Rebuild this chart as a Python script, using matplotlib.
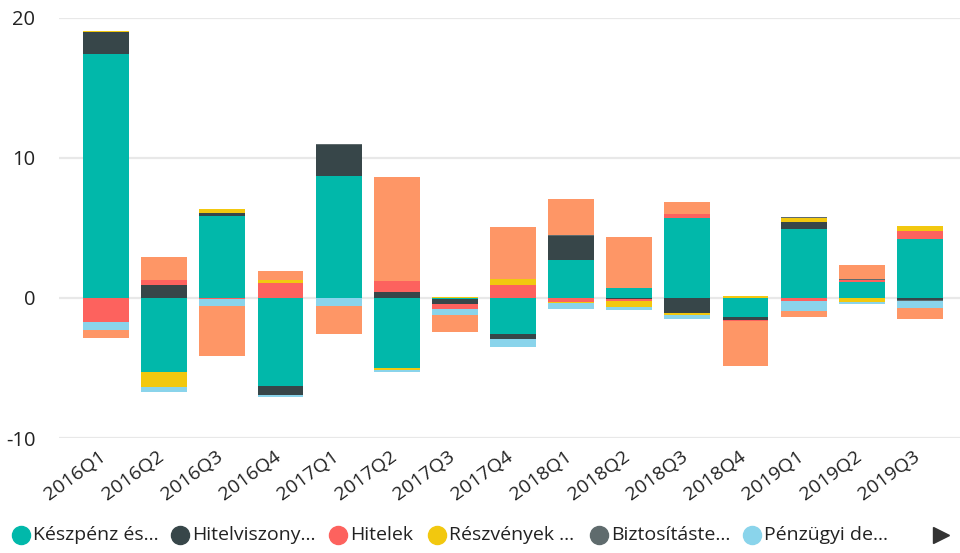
import matplotlib
matplotlib.use("Agg")
import matplotlib.pyplot as plt
import matplotlib.transforms as mtransforms
import numpy as np
from matplotlib.lines import Line2D

quarters = ["2016Q1", "2016Q2", "2016Q3", "2016Q4", "2017Q1", "2017Q2", "2017Q3", "2017Q4",
            "2018Q1", "2018Q2", "2018Q3", "2018Q4", "2019Q1", "2019Q2", "2019Q3"]

series_names = ["Készpénz és...", "Hitelviszony...", "Hitelek", "Részvények ...",
                "Biztosításte...", "Pénzügyi de...", "Egyéb"]

keszpenz = [17.40, -5.31, 5.83, -6.31, 8.69, -5.02, -0.05, -2.60, 2.69, 0.69, 5.69, -1.37, 4.90, 1.14, 4.19]
hitelviszony = [1.57, 0.90, 0.21, -0.64, 2.21, 0.40, -0.40, -0.36, 1.74, -0.07, -1.07, -0.22, 0.50, 0.00, -0.17]
hitelek = [-1.74, 0.36, -0.10, 1.05, 0.00, 0.79, -0.36, 0.90, -0.29, -0.14, 0.29, -0.07, -0.24, 0.12, 0.57]
reszvenyek = [0.07, -1.07, 0.29, 0.21, 0.00, -0.10, 0.05, 0.43, -0.10, -0.43, -0.17, 0.12, 0.29, -0.31, 0.36]
biztositas = [0.00, 0.00, 0.00, 0.00, 0.07, 0.00, 0.00, 0.00, 0.07, 0.00, 0.00, 0.00, 0.07, 0.07, -0.07]
derivativak = [-0.55, -0.36, -0.48, -0.14, -0.57, -0.19, -0.43, -0.57, -0.40, -0.21, -0.29, 0.00, -0.71, -0.14, -0.50]
egyeb = [-0.57, 1.64, -3.60, 0.64, -2.00, 7.43, -1.21, 3.71, 2.55, 3.64, 0.86, -3.21, -0.43, 1.00, -0.79]

series_values = [keszpenz, hitelviszony, hitelek, reszvenyek, biztositas, derivativak, egyeb]
colors = ["#01B8AA", "#374649", "#FD625E", "#F2C80F", "#5F6B6D", "#8AD4EB", "#FE9666"]

y_ticks = [-10, 0, 10, 20]

plt.rcParams['font.family'] = ['Open Sans', 'DejaVu Sans']

fig = plt.figure(figsize=(9.6, 5.53), dpi=100)
ax = fig.add_axes([59 / 960, 1 - 438 / 553, 1 - 59 / 960, (438 - 17.7) / 553])

x = np.arange(len(quarters))
pos_bottom = np.zeros(len(quarters))
neg_bottom = np.zeros(len(quarters))
for vals, col in zip(series_values, colors):
    v = np.array(vals, dtype=float)
    pos = np.where(v > 0, v, 0)
    neg = np.where(v < 0, v, 0)
    ax.bar(x, pos, bottom=pos_bottom, width=0.79, color=col, zorder=3, linewidth=0)
    ax.bar(x, neg, bottom=neg_bottom, width=0.79, color=col, zorder=3, linewidth=0)
    pos_bottom += pos
    neg_bottom += neg

ax.set_ylim(-10, 20)
ax.set_xlim(-0.81, 14.69)
ax.set_yticks(y_ticks)
ax.set_yticklabels([str(t) for t in y_ticks], fontsize=14.5, color="#222222")
ax.tick_params(axis='y', length=0, pad=17)
ax.set_xticks(x)
ax.set_xticklabels(quarters, rotation=36, ha='right', rotation_mode='anchor',
                   fontsize=14, color="#222222")
ax.tick_params(axis='x', length=0, pad=7)
offset = mtransforms.ScaledTranslation(-7 / 100, 0, fig.dpi_scale_trans)
for lbl in ax.get_xticklabels():
    lbl.set_transform(lbl.get_transform() + offset)
ax.grid(axis='y', color="#E8E8E8", linewidth=1.6, zorder=0)
ax.set_axisbelow(True)
for s in ax.spines.values():
    s.set_visible(False)

# legend (manual)
leg_y = 1 - 535 / 553
legend_x = [21, 180, 338, 437, 599, 752]
for i in range(6):
    fig.add_artist(Line2D([legend_x[i] / 960], [leg_y], marker='o', markersize=13,
                          color=colors[i], linestyle='None', transform=fig.transFigure))
    fig.text((legend_x[i] + 12) / 960, leg_y, series_names[i], fontsize=14,
             va='center', ha='left', color="#222222")
fig.add_artist(Line2D([941 / 960], [leg_y], marker='>', markersize=12,
                      color="#333333", linestyle='None', transform=fig.transFigure))

fig.savefig("out.png", dpi=100)
